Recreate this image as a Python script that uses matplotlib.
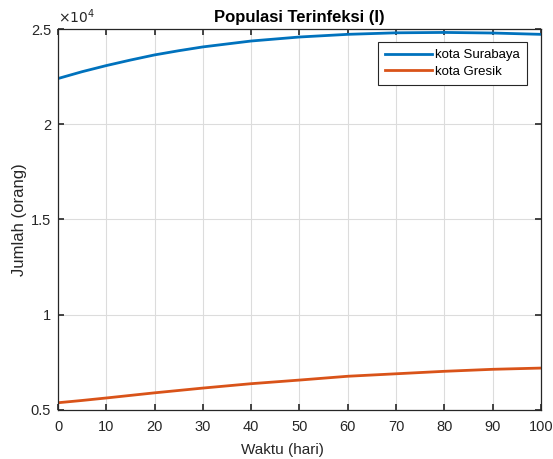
import matplotlib.pyplot as plt
from matplotlib.ticker import FuncFormatter

# data
hari = [0, 5, 10, 15, 20, 25, 30, 40, 50, 60, 70, 80, 90, 100]
surabaya = [22400, 22760, 23080, 23370, 23640, 23860, 24060, 24370, 24580, 24720,
            24800, 24820, 24790, 24720]
gresik = [5380, 5500, 5630, 5765, 5900, 6025, 6150, 6380, 6570, 6770, 6900, 7030,
          7135, 7200]

xticks = [0, 10, 20, 30, 40, 50, 60, 70, 80, 90, 100]
yticks = [5000, 10000, 15000, 20000, 25000]

plt.rcParams['font.family'] = ['Liberation Sans', 'DejaVu Sans']
dark = '#262626'

fig = plt.figure(figsize=(5.53, 4.59), dpi=100)
ax = fig.add_axes([0.1049, 0.1068, 0.8731, 0.8300])

ax.plot(hari, surabaya, color='#0072BD', lw=2.0, label='kota Surabaya')
ax.plot(hari, gresik, color='#D95319', lw=2.0, label='kota Gresik')

ax.set_xlim(0, 100)
ax.set_ylim(5000, 25000)
ax.set_xticks(xticks)
ax.set_yticks(yticks)
ax.yaxis.set_major_formatter(FuncFormatter(lambda v, p: '%g' % (v / 1e4)))
ax.grid(True, color='#dcdcdc', lw=0.8)
ax.set_axisbelow(True)
ax.tick_params(direction='in', top=True, right=True, length=4, width=1.2,
               colors=dark, labelsize=10.5)
ax.tick_params(axis='x', pad=7)
ax.tick_params(axis='y', pad=5)
for s in ax.spines.values():
    s.set_color(dark)
    s.set_linewidth(0.9)

ax.text(0.0, 1.008, r'$\times10^{4}$', transform=ax.transAxes, fontsize=10,
        color=dark, ha='left', va='bottom')
ax.set_title('Populasi Terinfeksi (I)', fontsize=12, fontweight='bold', pad=5)
ax.set_xlabel('Waktu (hari)', fontsize=11, color=dark)
ax.xaxis.set_label_coords(0.464, -0.087)
ax.set_ylabel('Jumlah (orang)', fontsize=12, color=dark)
ax.yaxis.set_label_coords(-0.064, 0.5)

leg = ax.legend(loc='upper right', bbox_to_anchor=(0.971, 0.966), fontsize=9.5,
                fancybox=False, framealpha=1, edgecolor=dark, handlelength=3.5,
                borderpad=0.55, labelspacing=0.3, handletextpad=0.25,
                borderaxespad=0)
leg.get_frame().set_linewidth(0.8)

fig.savefig('out.png', dpi=100)
